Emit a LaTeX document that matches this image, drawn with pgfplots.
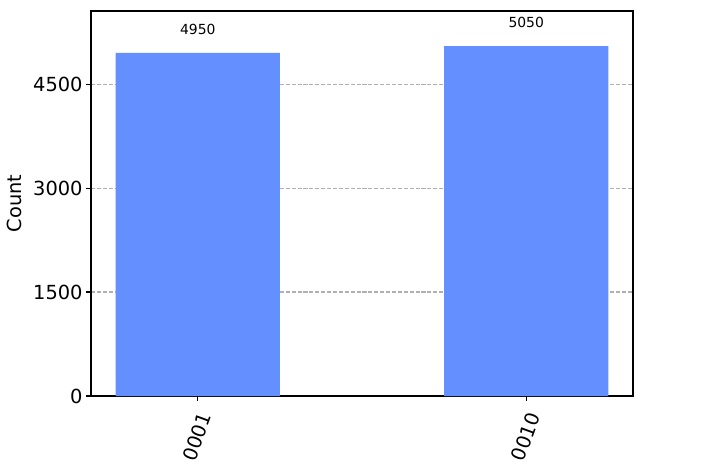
\documentclass[border=0pt]{standalone}
\usepackage{pgfplots}
\pgfplotsset{compat=1.18}
\usepackage{fontspec}
\setmainfont{DejaVu Sans}
\definecolor{barblue}{HTML}{648FFF}
\definecolor{gridgray}{HTML}{B0B0B0}
\begin{document}
\begin{tikzpicture}
\begin{axis}[
  name=ax, at={(0,0)}, anchor=south west,
  scale only axis, width=542bp, height=385bp,
  xmin=-0.325, xmax=1.325, ymin=0, ymax=5555,
  xtick={0,1}, xticklabels={0001,0010},
  ytick={0,1500,3000,4500},
  /pgf/number format/assume math mode=true,
  /pgf/number format/1000 sep={},
  scaled y ticks=false,
  yticklabel style={font=\fontsize{19.4bp}{22bp}\selectfont},
  xticklabel style={xshift=9bp, yshift=-9.5bp, rotate=70, anchor=east, font=\fontsize{19.4bp}{22bp}\selectfont},
  tick align=outside, major tick length=4.9bp,
  every tick/.style={black, line width=1.1bp},
  xtick pos=bottom, ytick pos=left,
  axis line style={line width=1.1bp},
  ymajorgrids, grid style={gridgray, line width=1.1bp, dash pattern=on 4.1bp off 1.8bp},
  ylabel={Count},
  ylabel style={at={(axis description cs:-0.1411,0.5)}, anchor=center, font=\fontsize{19.4bp}{22bp}\selectfont},
  nodes near coords,
  every node near coord/.append style={anchor=south, yshift=16bp, inner sep=2bp, font=\fontsize{13.9bp}{16bp}\selectfont, black},
]
\addplot[ybar, bar width=0.5, fill=barblue, draw=none] coordinates {(0,4950) (1,5050)};
\end{axis}
\path[use as bounding box] (-91bp,-67bp) rectangle (610bp,396bp);
\end{tikzpicture}
\end{document}
